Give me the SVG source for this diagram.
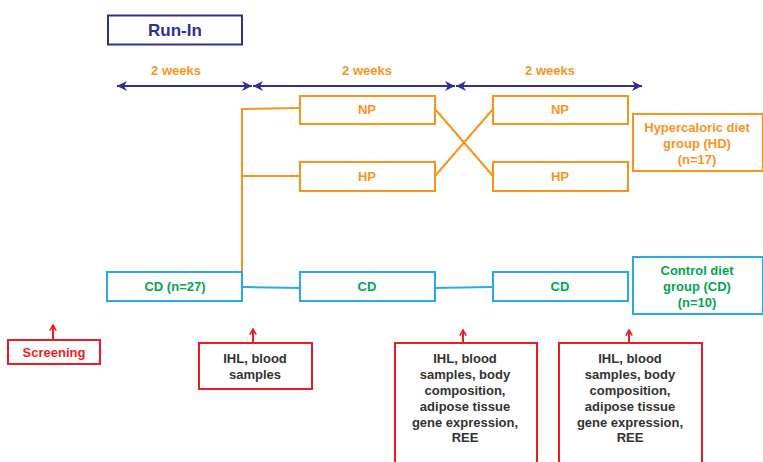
<svg xmlns="http://www.w3.org/2000/svg" width="763" height="462" viewBox="0 0 763 462">
<style>
text{font-family:"Liberation Sans",Arial,sans-serif;font-weight:bold;text-anchor:middle}
.nv{fill:#2E3192}
.or{fill:#F7941D;font-size:13px}
.gr{fill:#00A651;font-size:13px}
.rd{fill:#ED1C24;font-size:13px}
.dk{fill:#333333;font-size:13px}
.bo{fill:#fff;stroke:#F7941D;stroke-width:2}
.bb{fill:#fff;stroke:#29ABE2;stroke-width:2}
.br{fill:#fff;stroke:#ED1C24;stroke-width:2}
.lo{fill:none;stroke:#F7941D;stroke-width:2}
.lb{fill:none;stroke:#29ABE2;stroke-width:2}
.ln{fill:none;stroke:#2E3192;stroke-width:2;marker-start:url(#an);marker-end:url(#an)}
.lr{fill:none;stroke:#ED1C24;stroke-width:2;marker-end:url(#ar)}
</style>
<defs>
<marker id="an" viewBox="0 0 10 10" refX="10" refY="5" markerWidth="5" markerHeight="5" orient="auto-start-reverse" markerUnits="strokeWidth"><path d="M0,0 L10,5 L0,10 L3,5 Z" fill="#2E3192"/></marker>
<marker id="ar" viewBox="0 0 10 10" refX="9" refY="5" markerWidth="4" markerHeight="4" orient="auto" markerUnits="strokeWidth"><path d="M2,1 L9,5 L2,9" fill="none" stroke="#ED1C24" stroke-width="2"/></marker>
</defs>
<g id="runin"><rect x="108" y="15.5" width="134" height="29" fill="#fff" stroke="#2E3192" stroke-width="2"/><text x="175" y="36" class="nv" font-size="17">Run-In</text></g>
<g id="timeline">
<line x1="117" y1="86" x2="252" y2="86" class="ln"/>
<line x1="253" y1="86" x2="455" y2="86" class="ln"/>
<line x1="456" y1="86" x2="642" y2="86" class="ln"/>
<text x="176" y="75" class="or">2 weeks</text>
<text x="367" y="75" class="or">2 weeks</text>
<text x="550" y="75" class="or">2 weeks</text>
</g>
<g id="connectors">
<polyline points="242,271 242,109 300,108" class="lo"/>
<line x1="242" y1="176" x2="300" y2="176" class="lo"/>
<line x1="435" y1="109" x2="493" y2="176" class="lo"/>
<line x1="435" y1="176" x2="493" y2="109" class="lo"/>
<line x1="242" y1="287" x2="300" y2="288" class="lb"/>
<line x1="435" y1="288" x2="493" y2="287" class="lb"/>
<line x1="53" y1="339" x2="53" y2="325" class="lr"/>
<line x1="253" y1="343" x2="253" y2="329" class="lr"/>
<line x1="463" y1="343" x2="463" y2="330" class="lr"/>
<line x1="629" y1="343" x2="629" y2="330" class="lr"/>
</g>
<g id="np1"><rect x="300" y="96" width="135" height="28" class="bo"/><text x="367" y="114" class="or">NP</text></g>
<g id="hp1"><rect x="300" y="162" width="135" height="29" class="bo"/><text x="367" y="181" class="or">HP</text></g>
<g id="np2"><rect x="493" y="96" width="135" height="28" class="bo"/><text x="560" y="114" class="or">NP</text></g>
<g id="hp2"><rect x="493" y="162" width="135" height="29" class="bo"/><text x="560" y="181" class="or">HP</text></g>
<g id="hd"><rect x="633" y="114" width="130" height="57" class="bo"/><text class="or"><tspan x="697" y="132">Hypercaloric diet</tspan><tspan x="697" y="148">group (HD)</tspan><tspan x="697" y="164">(n=17)</tspan></text></g>
<g id="cd0"><rect x="107" y="272" width="135" height="29" class="bb"/><text x="175" y="291" class="gr">CD (n=27)</text></g>
<g id="cd1"><rect x="300" y="272" width="135" height="29" class="bb"/><text x="367" y="291" class="gr">CD</text></g>
<g id="cd2"><rect x="493" y="272" width="135" height="29" class="bb"/><text x="560" y="291" class="gr">CD</text></g>
<g id="cdg"><rect x="633" y="257" width="130" height="57" class="bb"/><text class="gr"><tspan x="697" y="275">Control diet</tspan><tspan x="697" y="291">group (CD)</tspan><tspan x="697" y="307">(n=10)</tspan></text></g>
<g id="screening"><rect x="8" y="340" width="92" height="24" class="br"/><text x="54" y="357" class="rd">Screening</text></g>
<g id="m1"><rect x="199" y="343" width="113" height="46" class="br"/><text class="dk"><tspan x="255" y="363">IHL, blood</tspan><tspan x="255" y="379">samples</tspan></text></g>
<g id="m2"><rect x="395" y="343" width="142" height="130" class="br"/><text class="dk"><tspan x="465" y="363">IHL, blood</tspan><tspan x="465" y="379">samples, body</tspan><tspan x="465" y="395">composition,</tspan><tspan x="465" y="411">adipose tissue</tspan><tspan x="465" y="427">gene expression,</tspan><tspan x="465" y="442">REE</tspan></text></g>
<g id="m3"><rect x="559" y="343" width="143" height="130" class="br"/><text class="dk"><tspan x="630" y="363">IHL, blood</tspan><tspan x="630" y="379">samples, body</tspan><tspan x="630" y="395">composition,</tspan><tspan x="630" y="411">adipose tissue</tspan><tspan x="630" y="427">gene expression,</tspan><tspan x="630" y="442">REE</tspan></text></g>
</svg>
